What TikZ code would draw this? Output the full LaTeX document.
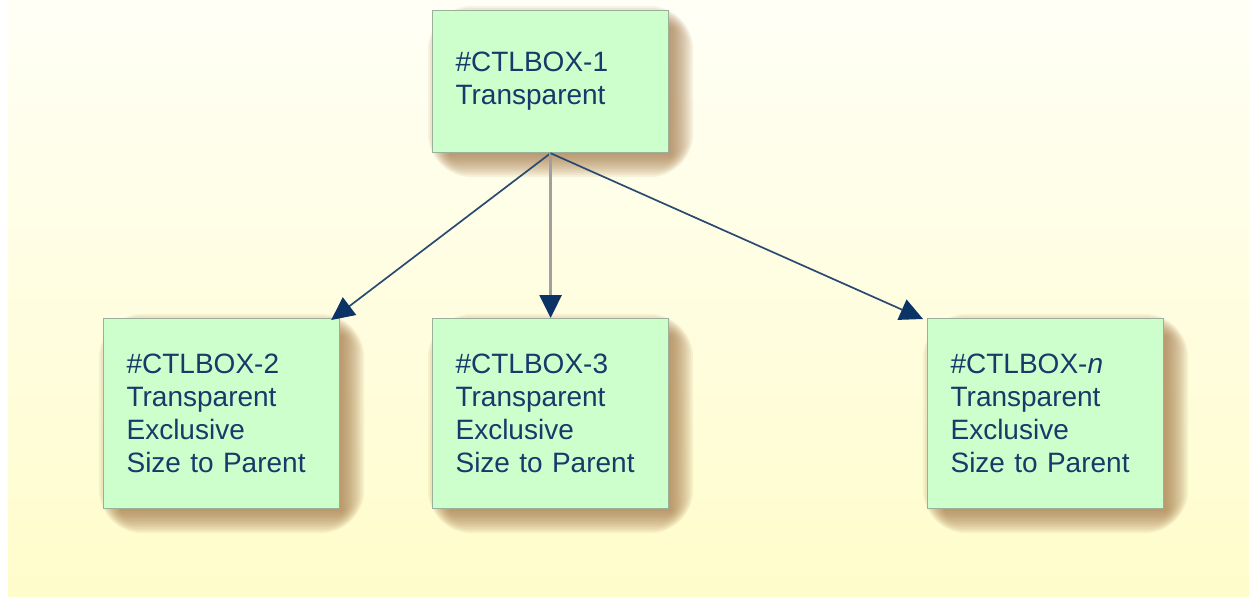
\documentclass[tikz,border=0pt]{standalone}
\usepackage{fontspec}
\setmainfont{Liberation Sans}
\usetikzlibrary{arrows.meta,calc}
\definecolor{boxfill}{HTML}{CCFFCC}
\definecolor{boxline}{HTML}{9AB09A}
\definecolor{txt}{HTML}{163A6A}
\definecolor{navy}{HTML}{0C3366}
\definecolor{linec}{HTML}{2B4A72}
\definecolor{vline}{HTML}{A0A0A0}
\definecolor{shadowc}{RGB}{160,115,65}
\definecolor{bgtop}{HTML}{FFFFF6}
\definecolor{bgbot}{HTML}{FFFCCB}
\pgfdeclarelayer{bg}
\pgfsetlayers{bg,main}
\tikzset{
  ctlbox/.style={draw=boxline, line width=0.6pt, fill=boxfill, text=txt,
    font=\fontsize{14pt}{16.5pt}\selectfont, align=left,
    text width=95pt, inner xsep=11.5pt, inner ysep=0pt, anchor=north west},
  conn/.style={draw=linec, line width=0.85pt,
    -{Triangle[length=11.5pt,width=11pt,color=navy]}},
}
\newcommand{\softshadow}[1]{%
  \begin{pgfonlayer}{bg}
  \foreach \r in {0,1,...,11}{
    \fill[shadowc, opacity=0.09, rounded corners=\r*2]
      ($(#1.north west)+(10-\r*2+8,10-\r*2+8)$) rectangle
      ($(#1.south east)+(10+\r*2-8,10+\r*2-8)$);
  }
  \end{pgfonlayer}}
\begin{document}
\begin{tikzpicture}[x=0.5pt,y=-0.5pt]
  \begin{pgfonlayer}{bg}
  \fill[white] (0,0) rectangle (1249,596);
  \shade[top color=bgtop, bottom color=bgbot] (8,0) rectangle (1249,596);
  \end{pgfonlayer}
  \useasboundingbox (0,0) rectangle (1249,596);

  \node[ctlbox, minimum height=71pt] (b1) at (432,10) {\#CTLBOX-1\\Transparent};
  \node[ctlbox, minimum height=95pt] (b2) at (103,318) {\#CTLBOX-2\\Transparent\\Exclusive\\Size to Parent};
  \node[ctlbox, minimum height=95pt] (b3) at (432,318) {\#CTLBOX-3\\Transparent\\Exclusive\\Size to Parent};
  \node[ctlbox, minimum height=95pt] (bn) at (927,318) {\#CTLBOX-\textit{n}\\Transparent\\Exclusive\\Size to Parent};

  \softshadow{b1}
  \softshadow{b2}
  \softshadow{b3}
  \softshadow{bn}

  \draw[conn] (b1.south) -- ($(b2.north east)+(-9,2)$);
  \draw[conn, draw=vline, line width=1.3pt] (b1.south) -- (b3.north);
  \draw[conn] (b1.south) -- ($(bn.north west)+(-4,1)$);
\end{tikzpicture}
\end{document}
